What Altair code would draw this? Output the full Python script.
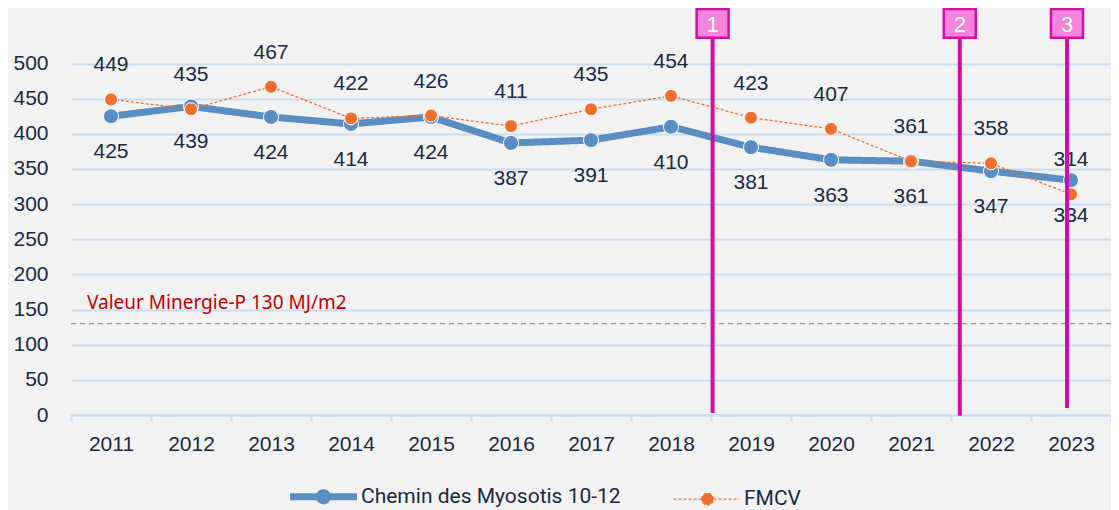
import altair as alt
import pandas as pd

years = ["2011", "2012", "2013", "2014", "2015", "2016", "2017", "2018", "2019", "2020", "2021", "2022", "2023"]
chemin = [425, 439, 424, 414, 424, 387, 391, 410, 381, 363, 361, 347, 334]
fmcv = [449, 435, 467, 422, 426, 411, 435, 454, 423, 407, 361, 358, 314]
series_names = ["Chemin des Myosotis 10-12", "FMCV"]

minergie_value = [130]
minergie_label = ["Valeur Minergie-P 130 MJ/m2"]

marker_labels = ["1", "2", "3"]
marker_pos = [8.02, 11.11, 12.45]      # in year-band units
marker_bottom = [3, -1, 10]
marker_top = [557, 557, 557]

BLUE = "#5a8dc2"
ORANGE = "#ef6e2b"
NAVY = "#1a2a43"
GRID = "#c9ddf2"
PINK_LINE = "#d10fa8"
PINK_FILL = "#f584dc"
BG = "#f2f2f2"

df = pd.DataFrame({
    "year": years * 2,
    "series": [series_names[0]] * len(years) + [series_names[1]] * len(years),
    "value": chemin + fmcv,
})

# legend glyphs (line + marker); the extra move-to points equalise the vertical bounds of both entries
path_blue = "M0,-1M0,1M-4.19,0H4.19M-0.5,0A0.5,0.5,0,1,1,0.5,0A0.5,0.5,0,1,1,-0.5,0Z"
path_orange = "M0,-1.7125M0,1.7125M-4.25,0H3.95M-0.73,0A0.73,0.73,0,1,1,0.73,0A0.73,0.73,0,1,1,-0.73,0Z"
is_f = "datum.value === 'FMCV'"

legend = alt.Legend(
    title=None, orient="none", legendX=241, legendY=477, direction="horizontal",
    symbolSize=256, labelOffset=26, columnPadding=49, padding=0,
    labelFont="Roboto", labelFontSize=21, labelColor=NAVY, labelLimit=500,
    symbolType=alt.ExprRef(expr=f"{is_f} ? '{path_orange}' : '{path_blue}'"),
    symbolFillColor=alt.ExprRef(expr=f"{is_f} ? '{ORANGE}' : '{BLUE}'"),
    symbolStrokeWidth=alt.ExprRef(expr=f"{is_f} ? 1.3 : 7"),
    symbolDash=alt.ExprRef(expr=f"{is_f} ? [3, 2] : [1, 0]"),
    symbolOpacity=1,
)

color = alt.Color("series:N", scale=alt.Scale(domain=series_names, range=[BLUE, ORANGE]), legend=legend)

x = alt.X("year:O", bandPosition=0.5,
          scale=alt.Scale(type="band", paddingInner=0, paddingOuter=0),
          axis=alt.Axis(title=None, tickBand="extent", ticks=True, tickSize=6, tickColor=GRID, tickWidth=2,
                        domainColor=GRID, domainWidth=2, labelPadding=12, labelFont="Liberation Sans",
                        labelFontSize=21, labelColor=NAVY, labelAngle=0, grid=False))
y = alt.Y("value:Q", scale=alt.Scale(domain=[0, 579], nice=False, zero=True),
          axis=alt.Axis(title=None, values=list(range(0, 501, 50)), grid=True, gridColor=GRID, gridWidth=2,
                        domain=False, ticks=False, tickSize=0, labelPadding=23, labelFont="Liberation Sans",
                        labelFontSize=21, labelColor=NAVY))

base = alt.Chart(df)
blue = base.transform_filter(alt.datum.series == series_names[0])
orange = base.transform_filter(alt.datum.series == series_names[1])

lines = base.mark_line(strokeJoin="round").encode(
    x=x, y=y, color=color,
    strokeWidth=alt.StrokeWidth("series:N", scale=alt.Scale(domain=series_names, range=[7, 1.3]), legend=None),
    strokeDash=alt.StrokeDash("series:N", scale=alt.Scale(domain=series_names, range=[[1, 0], [3, 2]]), legend=None),
)
blue_pts = blue.mark_circle(size=227, opacity=1, fill=BLUE, stroke="white", strokeWidth=1).encode(x=x, y=y)
blue_txt = blue.mark_text(dy=36, font="Liberation Sans", fontSize=21, color=NAVY).encode(x=x, y=y, text="value:Q")
orange_pts = orange.mark_circle(size=168, opacity=1, fill=ORANGE, stroke="white", strokeWidth=1).encode(x=x, y=y)
orange_txt = orange.mark_text(dy=-34, font="Liberation Sans", fontSize=21, color=NAVY).encode(x=x, y=y, text="value:Q")

# annotation layers with their own band-unit x scale
ax = alt.Scale(domain=[0, 13], nice=False, zero=False)
ydom = alt.Scale(domain=[0, 579], nice=False)

mdf = pd.DataFrame({"v": minergie_value, "label": minergie_label, "px": [0.2]})
min_rule = alt.Chart(mdf).mark_rule(color="#dd8452", strokeWidth=1.2, strokeDash=[5, 4]).encode(
    y=alt.Y("v:Q", scale=ydom))
min_txt = alt.Chart(mdf).mark_text(align="left", baseline="middle", dy=-21, font="Noto Sans", fontSize=19,
                                   color="#c00000").encode(
    x=alt.X("px:Q", scale=ax, axis=None), y=alt.Y("v:Q", scale=ydom), text="label:N")

adf = pd.DataFrame({"label": marker_labels, "pos": marker_pos, "bottom": marker_bottom, "top": marker_top})
a_rule = alt.Chart(adf).mark_rule(color=PINK_LINE, strokeWidth=4).encode(
    x=alt.X("pos:Q", scale=ax, axis=None), y=alt.Y("bottom:Q", scale=ydom), y2="top:Q")
a_box = alt.Chart(adf).mark_point(shape="M-1,-0.9H1V0.9H-1Z", size=1024, filled=True, fill=PINK_FILL,
                                  stroke=PINK_LINE, strokeWidth=2.5, opacity=1).encode(
    x=alt.X("pos:Q", scale=ax, axis=None), y=alt.Y("top:Q", scale=ydom))
a_txt = alt.Chart(adf).mark_text(color="white", font="Liberation Sans", fontSize=22, baseline="middle", dy=2).encode(
    x=alt.X("pos:Q", scale=ax, axis=None), y=alt.Y("top:Q", scale=ydom), text="label:N")

main = alt.layer(min_rule, lines, blue_pts, orange_pts, blue_txt, orange_txt)
annot = alt.layer(min_txt, a_rule, a_box, a_txt)

chart = alt.layer(main, annot).resolve_scale(x="independent").properties(
    width=1040, height=407,
    autosize=alt.AutoSizeParams(type="none"),
    padding={"left": 63, "top": 0, "right": 0, "bottom": 110},
).configure(background=BG).configure_view(stroke=None)

chart.save("out.html", embed_options={"renderer": "svg", "actions": False})
